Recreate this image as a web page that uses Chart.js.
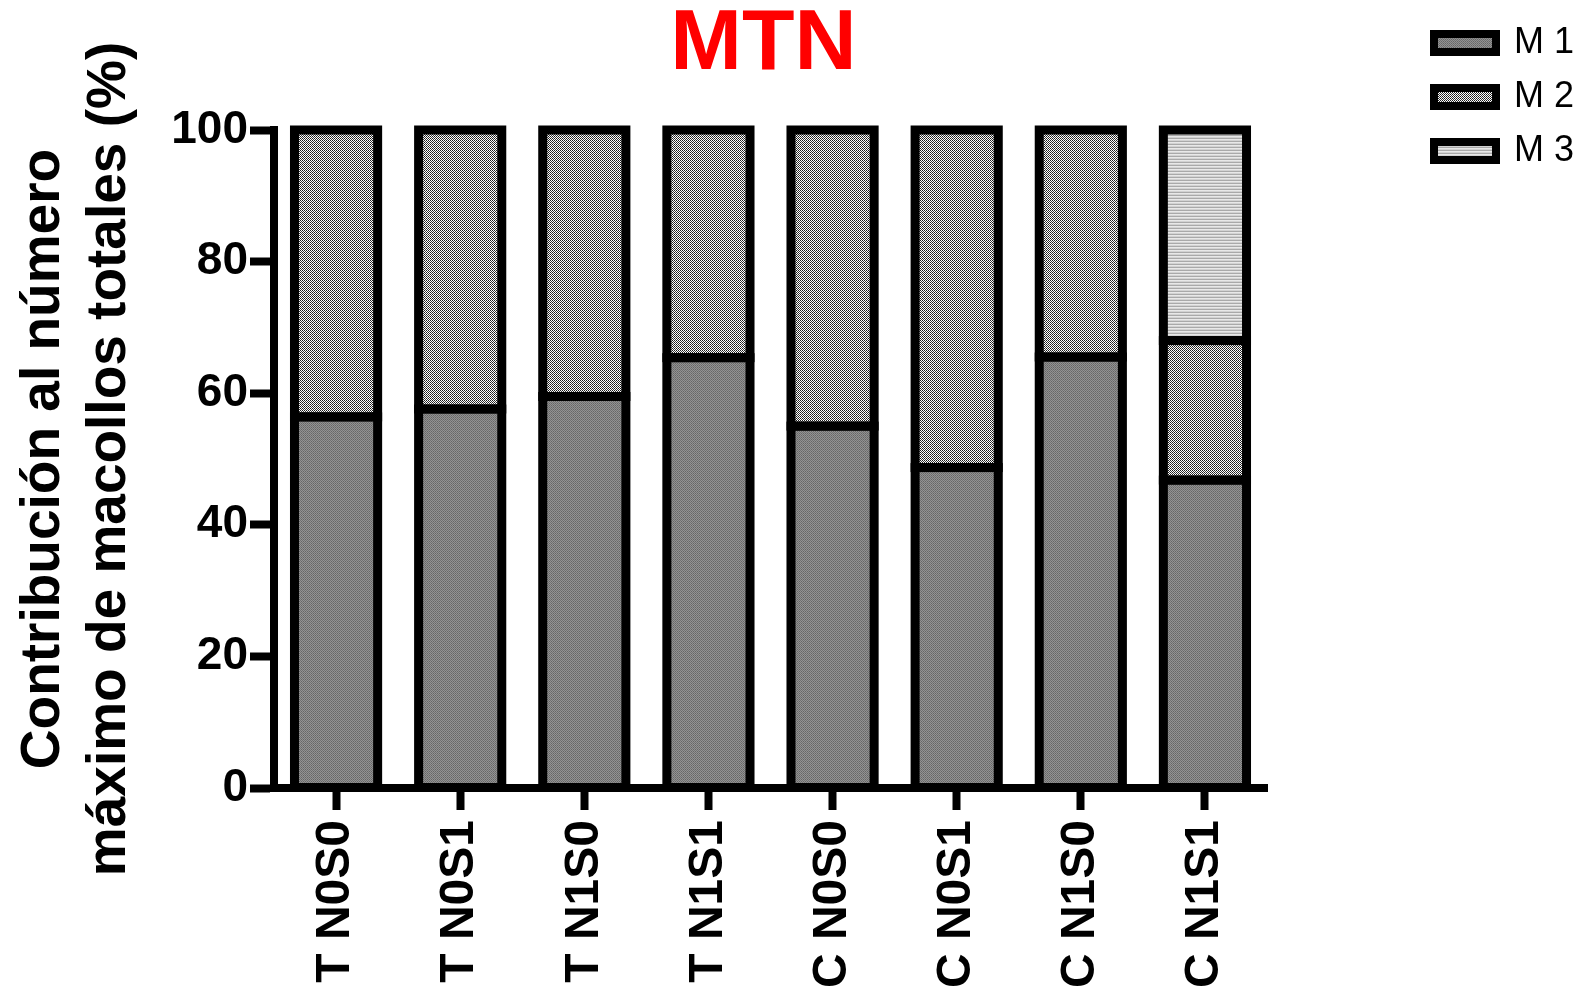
<!DOCTYPE html>
<html>
<head>
<meta charset="utf-8">
<title>MTN</title>
<script src="https://cdn.jsdelivr.net/npm/chart.js@4.4.1/dist/chart.umd.min.js"></script>
<style>
  html, body { margin: 0; padding: 0; background: #ffffff; }
  #wrap { width: 1585px; height: 995px; }
</style>
</head>
<body>
<div id="wrap"><canvas id="chart" width="1585" height="995"></canvas></div>
<script>
// Treatments on the x axis
const categories = ['T N0S0', 'T N0S1', 'T N1S0', 'T N1S1', 'C N0S0', 'C N0S1', 'C N1S0', 'C N1S1'];
// Share (%) of the maximum total tiller number contributed by each cohort
const m1Values = [56.4, 57.6, 59.5, 65.4, 55.0, 48.7, 65.5, 46.8];
const m2Values = [43.6, 42.4, 40.5, 34.6, 45.0, 51.3, 34.5, 21.2];
const m3Values = [0, 0, 0, 0, 0, 0, 0, 32.0];
const seriesNames = ['M 1', 'M 2', 'M 3'];
const yTicks = [0, 20, 40, 60, 80, 100];

const FONT = "'Liberation Sans', Arial, Helvetica, sans-serif";
const canvas = document.getElementById('chart');
const ctx = canvas.getContext('2d');

// Small bitmap tiles used as bar fills
function makePattern(w, h, paint) {
  const tile = document.createElement('canvas');
  tile.width = w; tile.height = h;
  const t = tile.getContext('2d');
  paint(t);
  return ctx.createPattern(tile, 'repeat');
}
function px(t, x, y, c) { t.fillStyle = c; t.fillRect(x, y, 1, 1); }

// Grey stipple
const stipple = makePattern(2, 2, t => {
  px(t, 0, 0, '#727272'); px(t, 1, 0, '#939393');
  px(t, 0, 1, '#939393'); px(t, 1, 1, '#666666');
});
// Fine black/white checker
const checker = makePattern(2, 2, t => {
  px(t, 0, 0, '#1a1a1a'); px(t, 1, 0, '#ffffff');
  px(t, 0, 1, '#ffffff'); px(t, 1, 1, '#3a3a3a');
});
// Light horizontal hatching
const hatch = makePattern(1, 3, t => {
  px(t, 0, 0, '#a9a9a9'); px(t, 0, 1, '#e8e8e8'); px(t, 0, 2, '#d2d2d2');
});
const fills = [stipple, checker, hatch];

// Black outline around every stacked segment, centred on its edges
const outlinePlugin = {
  id: 'segmentOutline',
  afterDatasetsDraw(chart) {
    const c = chart.ctx;
    c.save();
    c.lineWidth = 9;
    c.strokeStyle = '#000000';
    c.lineJoin = 'miter';
    chart.data.datasets.forEach((ds, i) => {
      const meta = chart.getDatasetMeta(i);
      if (meta.hidden) return;
      meta.data.forEach(bar => {
        const p = bar.getProps(['x', 'y', 'base', 'width'], true);
        const h = Math.abs(p.base - p.y);
        if (h < 0.5) return;
        c.strokeRect(p.x - p.width / 2, Math.min(p.y, p.base), p.width, h);
      });
    });
    c.restore();
  }
};

// Legend sits in the top-right corner, title is nudged over the plot
const placementPlugin = {
  id: 'placement',
  afterLayout(chart) {
    const lg = chart.legend;
    if (lg) {
      lg.left = 1416; lg.right = lg.left + lg.width;
      lg.top = 7; lg.bottom = lg.top + lg.height;
    }
    const tb = chart.titleBlock;
    if (tb) { tb.left -= 7; tb.right -= 7; }
  }
};

new Chart(ctx, {
  type: 'bar',
  data: {
    labels: categories,
    datasets: [
      { label: seriesNames[0], data: m1Values, backgroundColor: fills[0], borderWidth: 0 },
      { label: seriesNames[1], data: m2Values, backgroundColor: fills[1], borderWidth: 0 },
      { label: seriesNames[2], data: m3Values, backgroundColor: fills[2], borderWidth: 0 }
    ]
  },
  options: {
    responsive: false,
    animation: false,
    devicePixelRatio: 1,
    layout: { padding: { left: 0, right: 318, top: 0, bottom: 0 } },
    datasets: { bar: { categoryPercentage: 1.0, barPercentage: 0.67 } },
    plugins: {
      tooltip: { enabled: false },
      title: {
        display: true,
        text: 'MTN',
        color: '#ff0000',
        fullSize: false,
        font: { family: FONT, size: 86, weight: 'bold', lineHeight: 1 },
        padding: { top: 2, bottom: 42 }
      },
      legend: {
        position: 'chartArea',
        align: 'start',
        labels: {
          boxWidth: 62,
          boxHeight: 18,
          padding: 18,
          color: '#000000',
          font: { family: FONT, size: 36 },
          generateLabels(chart) {
            return chart.data.datasets.map((ds, i) => ({
              text: ds.label,
              fillStyle: fills[i],
              strokeStyle: '#000000',
              lineWidth: 8,
              hidden: false,
              datasetIndex: i
            }));
          }
        }
      }
    },
    scales: {
      x: {
        stacked: true,
        offset: true,
        afterFit(scale) { scale.height = 207; },
        border: { display: true, color: '#000000', width: 8 },
        grid: {
          offset: false,
          drawOnChartArea: false,
          drawTicks: true,
          tickLength: 22,
          tickWidth: 8,
          tickColor: '#000000'
        },
        ticks: {
          color: '#000000',
          minRotation: 90,
          maxRotation: 90,
          autoSkip: false,
          padding: 10,
          font: { family: FONT, size: 48, weight: 'bold' }
        }
      },
      y: {
        stacked: true,
        min: 0,
        max: 100,
        afterFit(scale) { scale.width = 274; },
        afterBuildTicks(scale) { scale.ticks = yTicks.map(v => ({ value: v })); },
        border: { display: true, color: '#000000', width: 8 },
        grid: {
          drawOnChartArea: false,
          drawTicks: true,
          tickLength: 24,
          tickWidth: 8,
          tickColor: '#000000'
        },
        ticks: {
          color: '#000000',
          padding: 2,
          font: { family: FONT, size: 46, weight: 'bold' }
        },
        title: {
          display: true,
          text: ['Contribución al número', 'máximo de macollos totales (%)'],
          color: '#000000',
          font: { family: FONT, size: 55, weight: 'bold', lineHeight: 1.2 },
          padding: { top: 11, bottom: 0 }
        }
      }
    }
  },
  plugins: [outlinePlugin, placementPlugin]
});
</script>
</body>
</html>
